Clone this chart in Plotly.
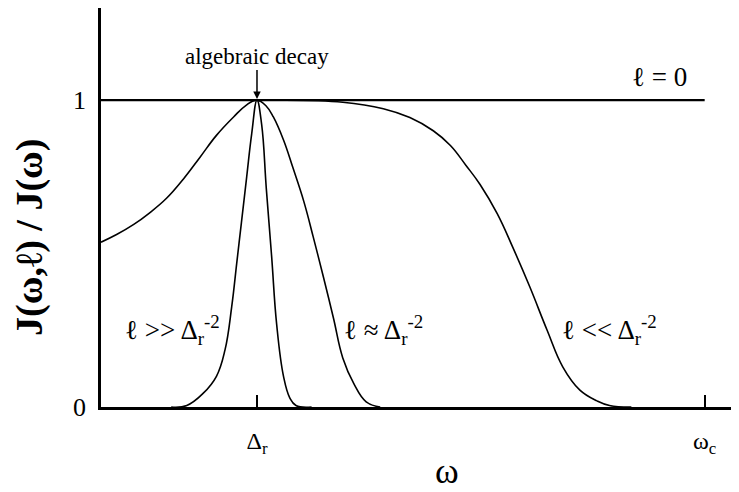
import plotly.graph_objects as go

# omega in units of Delta_r, J ratio
omega_c = 3.87

broad_x = [0, 1.0, 1.55, 1.81, 1.98, 2.13, 2.24, 2.34, 2.43, 2.54, 2.64, 2.75, 2.86, 2.96, 3.07, 3.18, 3.26, 3.4]
broad_y = [1.0, 1.0, 0.993, 0.972, 0.943, 0.9, 0.852, 0.787, 0.725, 0.63, 0.52, 0.39, 0.25, 0.131, 0.055, 0.02, 0.005, 0.0]

mid_x = [0, 0.10, 0.21, 0.31, 0.42, 0.53, 0.635, 0.74, 0.85, 0.93, 1.0, 1.06, 1.105, 1.17, 1.23, 1.30, 1.36, 1.425, 1.49, 1.55, 1.62, 1.70, 1.79]
mid_y = [0.537, 0.562, 0.595, 0.632, 0.68, 0.744, 0.814, 0.885, 0.945, 0.983, 1.0, 0.98, 0.945, 0.87, 0.78, 0.67, 0.555, 0.425, 0.29, 0.16, 0.077, 0.017, 0.0]

narrow_x = [0.45, 0.55, 0.656, 0.74, 0.795, 0.838, 0.87, 0.90, 0.934, 0.966, 1.0, 1.03, 1.06, 1.094, 1.126, 1.17, 1.21, 1.25, 1.35]
narrow_y = [0.0, 0.005, 0.045, 0.10, 0.186, 0.327, 0.468, 0.60, 0.75, 0.89, 1.0, 0.92, 0.71, 0.49, 0.27, 0.10, 0.03, 0.005, 0.0]

flat_x = [0, omega_c]
flat_y = [1, 1]

xtick_vals = [1, omega_c]
xtick_text = ["Δ<sub>r</sub>", "ω<sub>c</sub>"]
ytick_vals = [0, 1]
ytick_text = ["0", "1"]

font = "Liberation Serif, Times New Roman, serif"
line = dict(color="black", width=1.6)

fig = go.Figure()
fig.add_trace(go.Scatter(x=flat_x, y=flat_y, mode="lines", line=dict(color="black", width=2.2)))
for xs, ys in [(broad_x, broad_y), (mid_x, mid_y), (narrow_x, narrow_y)]:
    fig.add_trace(go.Scatter(x=xs, y=ys, mode="lines", line=dict(line, shape="spline", smoothing=1.2)))

labels = [
    (0.46, 0.25, "ℓ >> Δ<sub>r</sub><sup>-2</sup>"),
    (1.81, 0.25, "ℓ ≈ Δ<sub>r</sub><sup>-2</sup>"),
    (3.26, 0.25, "ℓ << Δ<sub>r</sub><sup>-2</sup>"),
    (3.58, 1.075, "ℓ = 0"),
]
for lx, ly, txt in labels:
    fig.add_annotation(x=lx, y=ly, text=txt, showarrow=False, xanchor="center", yanchor="middle",
                       font=dict(family=font, size=27, color="black"))

fig.add_annotation(x=1, y=1, text="algebraic decay", showarrow=True, ax=0, ay=-44,
                   arrowhead=2, arrowsize=1, arrowwidth=1.5, arrowcolor="black", standoff=1,
                   font=dict(family=font, size=23, color="black"))

fig.add_annotation(x=2.22, y=-0.16, xref="x", yref="paper", text="ω", showarrow=False,
                   xanchor="center", yanchor="middle",
                   font=dict(family=font, size=36, color="black"))
fig.add_annotation(x=-0.111, y=0.424, xref="paper", yref="paper", text="<b>J(ω,ℓ) / J(ω)</b>",
                   textangle=-90, showarrow=False, xanchor="center", yanchor="middle",
                   font=dict(family=font, size=38, color="black"))

fig.update_xaxes(range=[0, 4.09], showline=True, linecolor="black", linewidth=2.5,
                 showgrid=False, zeroline=False, ticks="inside", ticklen=12, tickwidth=2,
                 tickcolor="black", tickvals=xtick_vals, ticktext=xtick_text,
                 ticklabelstandoff=10, tickfont=dict(family=font, size=24, color="black"))
fig.update_yaxes(range=[0, 1.30], showline=True, linecolor="black", linewidth=2.5,
                 showgrid=False, zeroline=False, ticks="", tickvals=ytick_vals, ticktext=ytick_text,
                 ticklabelstandoff=7, tickfont=dict(family=font, size=26, color="black"))

# the page body adds an 8px offset, so margins are shifted to compensate
fig.update_layout(width=739, height=492, margin=dict(l=93, r=8, t=0, b=93),
                  plot_bgcolor="white", paper_bgcolor="white", showlegend=False,
                  hovermode=False)

fig.write_html("out.html")
